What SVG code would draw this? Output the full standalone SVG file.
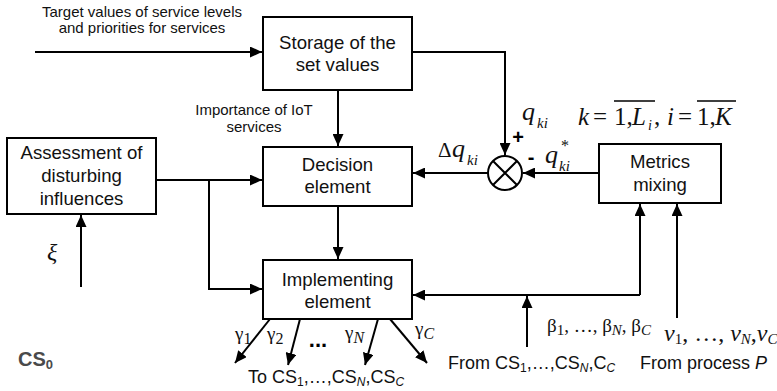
<svg xmlns="http://www.w3.org/2000/svg" width="777" height="391" viewBox="0 0 777 391">
<style>
.box{fill:#fff;stroke:#000;stroke-width:2}
.ln{fill:none;stroke:#000;stroke-width:2}
.arr{marker-end:url(#ah)}
.bt{font-family:"Liberation Sans",Arial,sans-serif;font-size:18.6px;text-anchor:middle;fill:#111}
.st{font-family:"Liberation Sans",Arial,sans-serif;font-size:15px;text-anchor:middle;fill:#111}
.lb{font-family:"Liberation Sans",Arial,sans-serif;font-size:18px;fill:#111}
.m{font-family:"Liberation Serif","Times New Roman",serif;fill:#111}
.i{font-style:italic}
</style>
<defs>
<marker id="ah" markerUnits="userSpaceOnUse" markerWidth="13" markerHeight="11" refX="12" refY="5.5" orient="auto">
<path d="M0,0 L12,5.5 L0,11 z" fill="#000"/>
</marker>
</defs>

<g id="connectors">
<path class="ln arr" d="M35,52 H262"/>
<path class="ln arr" d="M412,52 H505 V155"/>
<path class="ln arr" d="M338,90 V146"/>
<path class="ln arr" d="M156,180 H262"/>
<path class="ln arr" d="M209,180 V289 H262"/>
<path class="ln arr" d="M338,206 V259"/>
<path class="ln arr" d="M81,287 V215"/>
<path class="ln arr" d="M599,173 H523"/>
<path class="ln arr" d="M488,173 H413"/>
<path class="ln arr" d="M640,295 V204"/>
<path class="ln arr" d="M640,295 H413"/>
<path class="ln arr" d="M527,347 V296"/>
<path class="ln arr" d="M677,318 V204"/>
<path class="ln arr" d="M270,319 L235,363"/>
<path class="ln arr" d="M300,319 L288,365"/>
<path class="ln arr" d="M378,319 L365,365"/>
<path class="ln arr" d="M390,319 L427,363"/>
</g>

<g id="storage">
<rect class="box" x="263" y="17" width="149" height="73"/>
<text class="bt" x="337.5" y="48.5">Storage of the</text>
<text class="bt" x="337.5" y="70.5">set values</text>
</g>

<g id="decision">
<rect class="box" x="263" y="147" width="149" height="59"/>
<text class="bt" x="337.5" y="171">Decision</text>
<text class="bt" x="337.5" y="193">element</text>
</g>

<g id="implementing">
<rect class="box" x="263" y="260" width="149" height="59"/>
<text class="bt" x="337.5" y="286">Implementing</text>
<text class="bt" x="337.5" y="308">element</text>
</g>

<g id="assessment">
<rect class="box" x="7" y="138" width="149" height="76"/>
<text class="bt" x="81.5" y="159">Assessment of</text>
<text class="bt" x="81.5" y="182">disturbing</text>
<text class="bt" x="81.5" y="205">influences</text>
</g>

<g id="metrics">
<rect class="box" x="599" y="144" width="122" height="59"/>
<text class="bt" x="660" y="168">Metrics</text>
<text class="bt" x="660" y="191">mixing</text>
</g>

<g id="comparator">
<circle cx="505" cy="173" r="17" fill="#fff" stroke="#000" stroke-width="2"/>
<path class="ln" d="M493,161 L517,185 M517,161 L493,185"/>
</g>

<g id="labels">
<text class="st" x="142" y="17">Target values of service levels</text>
<text class="st" x="142" y="33">and priorities for services</text>
<text class="st" x="254" y="115">Importance of IoT</text>
<text class="st" x="254" y="132">services</text>

<text class="m i" x="522" y="120" font-size="26">q</text>
<text class="m i" x="537" y="128" font-size="15">ki</text>
<text x="518" y="144" font-family="Liberation Sans,Arial,sans-serif" font-weight="bold" font-size="20" text-anchor="middle">+</text>
<text x="531" y="164" font-family="Liberation Sans,Arial,sans-serif" font-weight="bold" font-size="20" text-anchor="middle">-</text>
<text class="m i" x="545" y="163" font-size="26">q</text>
<text class="m" x="561" y="151" font-size="16">*</text>
<text class="m i" x="559" y="171" font-size="15">ki</text>
<text class="m" x="438" y="157" font-size="21">Δ</text>
<text class="m i" x="452" y="157" font-size="26">q</text>
<text class="m i" x="467" y="165" font-size="15">ki</text>

<text class="m i" x="578" y="125" font-size="25">k</text>
<text class="m" x="593" y="125" font-size="25">=</text>
<text class="m" x="614" y="125" font-size="25">1,</text>
<text class="m i" x="632" y="125" font-size="25">L</text>
<text class="m i" x="648" y="130" font-size="14">i</text>
<text class="m" x="654" y="125" font-size="25">,</text>
<text class="m i" x="667" y="125" font-size="25">i</text>
<text class="m" x="678" y="125" font-size="25">=</text>
<text class="m" x="697" y="125" font-size="25">1,</text>
<text class="m i" x="715" y="125" font-size="25">K</text>
<path d="M614,101 H655 M697,101 H736" stroke="#000" stroke-width="1.5"/>

<text class="m i" x="47" y="260" font-size="24">ξ</text>

<text class="m" x="235" y="340" font-size="19">γ<tspan font-size="16" dy="4">1</tspan></text>
<text class="m" x="267" y="340" font-size="19">γ<tspan font-size="16" dy="4">2</tspan></text>
<text x="318" y="347" font-family="Liberation Sans,Arial,sans-serif" font-weight="bold" font-size="22" text-anchor="middle">...</text>
<text class="m" x="345" y="339" font-size="19">γ<tspan class="i" font-size="16" dy="4">N</tspan></text>
<text class="m" x="415" y="335" font-size="19">γ<tspan class="i" font-size="16" dy="4">C</tspan></text>

<text class="m" x="547" y="332" font-size="19">β<tspan font-size="15" dy="3">1</tspan><tspan dy="-3">, …, β</tspan><tspan class="i" font-size="15" dy="3">N</tspan><tspan dy="-3">, β</tspan><tspan class="i" font-size="15" dy="3">C</tspan></text>
<text class="m" x="664" y="341" font-size="24"><tspan class="i">ν</tspan><tspan font-size="15" dy="3">1</tspan><tspan dy="-3">, …, </tspan><tspan class="i">ν</tspan><tspan class="i" font-size="15" dy="3">N</tspan><tspan dy="-3">,</tspan><tspan class="i">ν</tspan><tspan class="i" font-size="15" dy="3">C</tspan></text>

<text class="lb" x="448" y="369">From CS<tspan font-size="12" dy="3">1</tspan><tspan dy="-3">,…,CS</tspan><tspan class="i" font-size="12" dy="3">N</tspan><tspan dy="-3">,C</tspan><tspan class="i" font-size="12" dy="3">C</tspan></text>
<text class="lb" x="640" y="369" font-size="18.5">From process <tspan class="i">P</tspan></text>
<text class="lb" x="248" y="383">To CS<tspan font-size="12" dy="3">1</tspan><tspan dy="-3">,…,CS</tspan><tspan class="i" font-size="12" dy="3">N</tspan><tspan dy="-3">,CS</tspan><tspan class="i" font-size="12" dy="3">C</tspan></text>
<text x="18" y="366" font-family="Liberation Sans,Arial,sans-serif" font-weight="bold" font-size="20" fill="#4a4a4a">CS<tspan font-size="13" dy="3">0</tspan></text>
</g>
</svg>
